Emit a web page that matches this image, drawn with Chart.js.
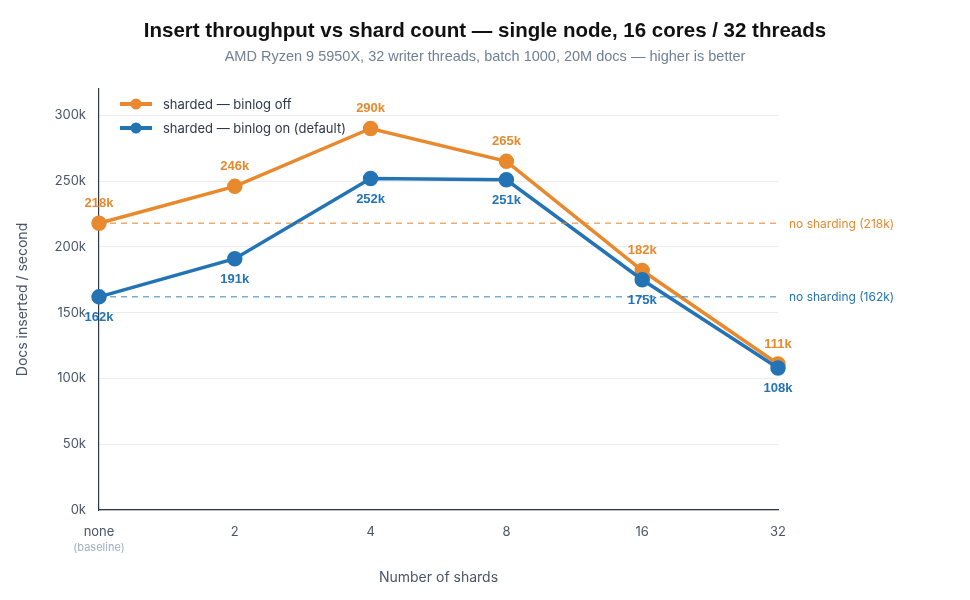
<!DOCTYPE html>
<html>
<head>
<meta charset="utf-8">
<script src="https://cdn.jsdelivr.net/npm/chart.js@4.4.1/dist/chart.umd.min.js"></script>
<style>
  html, body { margin: 0; padding: 0; background: #fff; }
  #wrap { width: 970px; height: 600px; }
</style>
</head>
<body>
<div id="wrap"><canvas id="chart"></canvas></div>
<script>
// Dữ liệu
const shardLabels = ['none', '2', '4', '8', '16', '32'];
const binlogOff = [218, 246, 290, 265, 182, 111];
const binlogOn = [162, 191, 252, 251, 175, 108];
const baselineOff = 218;
const baselineOn = 162;
const yTicks = [0, 50, 100, 150, 200, 250, 300];

const titleText = 'Insert throughput vs shard count — single node, 16 cores / 32 threads';
const subtitleText = 'AMD Ryzen 9 5950X, 32 writer threads, batch 1000, 20M docs — higher is better';

const ORANGE = '#e8892e';
const BLUE = '#2474b5';
const SANS = 'Inter, "Liberation Sans", Arial, sans-serif';
const ARIAL = '"Liberation Sans", Arial, sans-serif';

// Tiêu đề, nhãn giá trị, đường "no sharding", chú thích và "(baseline)"
const extras = {
    id: 'extras',
    afterDatasetsDraw(chart) {
        const ctx = chart.ctx;
        const area = chart.chartArea;
        const y = chart.scales.y;
        const x = chart.scales.x;
        const cx = chart.width / 2;

        // tiêu đề
        ctx.save();
        ctx.textAlign = 'center';
        ctx.textBaseline = 'middle';
        ctx.fillStyle = '#111';
        ctx.font = 'bold 20.5px ' + ARIAL;
        ctx.fillText(titleText, cx, 31);
        ctx.fillStyle = '#718096';
        ctx.font = '14.5px ' + ARIAL;
        ctx.fillText(subtitleText, cx, 57);
        ctx.restore();

        // đường cơ sở nét đứt
        [[baselineOff, 'rgba(232,137,46,0.7)', ORANGE],
         [baselineOn, 'rgba(36,116,181,0.6)', BLUE]].forEach(([v, lc, tc]) => {
            const py = y.getPixelForValue(v);
            ctx.save();
            ctx.strokeStyle = lc;
            ctx.lineWidth = 1.5;
            ctx.setLineDash([6, 5]);
            ctx.beginPath();
            ctx.moveTo(area.left, py);
            ctx.lineTo(area.right + 2, py);
            ctx.stroke();
            ctx.setLineDash([]);
            ctx.fillStyle = tc;
            ctx.font = '12px ' + SANS;
            ctx.textAlign = 'left';
            ctx.textBaseline = 'middle';
            ctx.fillText('no sharding (' + v + 'k)', area.right + 11, py + 1);
            ctx.restore();
        });

        // nhãn giá trị
        ctx.save();
        ctx.font = 'bold 13px ' + ARIAL;
        ctx.textAlign = 'center';
        ctx.textBaseline = 'middle';
        chart.data.datasets.forEach((ds, i) => {
            const meta = chart.getDatasetMeta(i);
            const above = ds.label.indexOf('off') >= 0;
            ctx.fillStyle = ds.borderColor;
            meta.data.forEach((pt, j) => {
                ctx.fillText(ds.data[j] + 'k', pt.x, pt.y + (above ? -20 : 21));
            });
        });
        ctx.restore();

        // chú thích
        ctx.save();
        chart.data.datasets.slice().sort((a, b) => b.order - a.order).forEach((ds, i) => {
            const ly = 104 + i * 24;
            ctx.strokeStyle = ds.borderColor;
            ctx.fillStyle = ds.borderColor;
            ctx.lineWidth = 4;
            ctx.beginPath();
            ctx.moveTo(120, ly);
            ctx.lineTo(152, ly);
            ctx.stroke();
            ctx.beginPath();
            ctx.arc(136, ly, 5.5, 0, Math.PI * 2);
            ctx.fill();
            ctx.fillStyle = '#2d3748';
            ctx.font = '13px ' + SANS;
            ctx.textAlign = 'left';
            ctx.textBaseline = 'middle';
            ctx.fillText(ds.label, 163, ly + 1);
        });
        ctx.restore();

        // (baseline) dưới nhãn "none"
        ctx.save();
        ctx.fillStyle = '#a0aec0';
        ctx.font = '11px ' + SANS;
        ctx.textAlign = 'center';
        ctx.textBaseline = 'middle';
        ctx.fillText('(baseline)', x.getPixelForValue(0), 548);
        ctx.restore();
    }
};

const ctx = document.getElementById('chart').getContext('2d');
const chart = new Chart(ctx, {
    type: 'line',
    data: {
        labels: shardLabels,
        datasets: [{
            label: 'sharded — binlog off',
            data: binlogOff,
            borderColor: ORANGE,
            backgroundColor: ORANGE,
            borderWidth: 3.5,
            pointRadius: 6,
            pointHoverRadius: 6,
            order: 1
        }, {
            label: 'sharded — binlog on (default)',
            data: binlogOn,
            borderColor: BLUE,
            backgroundColor: BLUE,
            borderWidth: 3.5,
            pointRadius: 6,
            pointHoverRadius: 6,
            order: 0
        }]
    },
    options: {
        responsive: true,
        maintainAspectRatio: false,
        animation: false,
        layout: { padding: { left: 10, right: 192, top: 89, bottom: 10 } },
        plugins: {
            legend: { display: false },
            tooltip: { enabled: false },
            title: { display: false },
            subtitle: { display: false }
        },
        scales: {
            x: {
                offset: false,
                grid: { display: false, drawTicks: false },
                border: { color: '#2d3748', width: 1.2 },
                ticks: { color: '#4a5568', font: { family: SANS, size: 13 }, padding: 14, maxRotation: 0 },
                title: {
                    display: true,
                    text: 'Number of shards',
                    color: '#4a5568',
                    font: { family: SANS, size: 14 },
                    padding: { top: 4, bottom: 4 }
                },
                afterFit(scale) { scale.height = 80; }
            },
            y: {
                min: 0,
                max: 320,
                afterBuildTicks(scale) {
                    scale.ticks = yTicks.map(v => ({ value: v }));
                },
                grid: { color: '#ececec', drawTicks: false },
                border: { color: '#2d3748', width: 1.2 },
                ticks: {
                    color: '#4a5568',
                    font: { family: SANS, size: 13 },
                    padding: 13,
                    callback: v => v + 'k'
                },
                title: {
                    display: true,
                    text: 'Docs inserted / second',
                    color: '#4a5568',
                    font: { family: SANS, size: 14 },
                    padding: { top: 4, bottom: 4 }
                },
                afterFit(scale) { scale.width = 89; }
            }
        }
    },
    plugins: [extras]
});
</script>
</body>
</html>
